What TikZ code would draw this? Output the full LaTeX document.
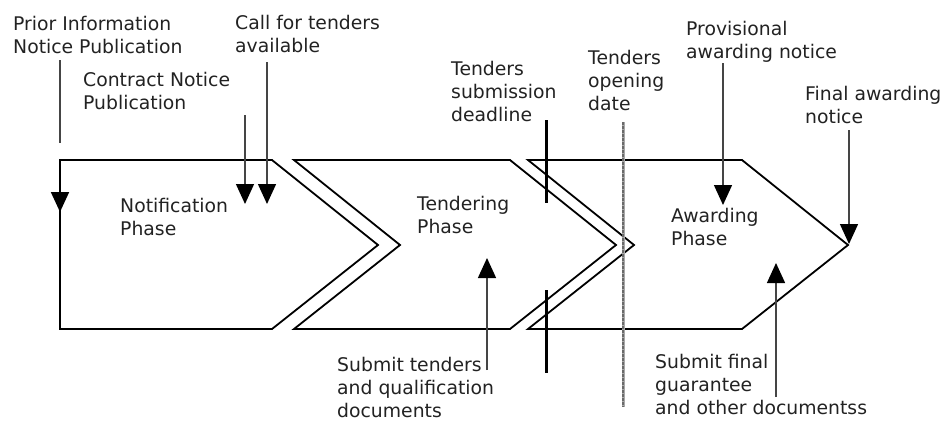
\documentclass[tikz,border=0pt]{standalone}
\usepackage{fontspec}
\setmainfont{DejaVu Sans}
\usetikzlibrary{arrows.meta}
\definecolor{ink}{HTML}{222222}
\definecolor{lead}{HTML}{454545}
\definecolor{dateline}{HTML}{6A6A6A}
\definecolor{datebase}{HTML}{A8A8A8}
\begin{document}
\begin{tikzpicture}[x=1pt,y=-1pt,
  % multi-line labels are placed by the baseline of their last line
  txt/.style={anchor=base west, align=left, inner sep=0pt, text=ink,
    font=\fontsize{18.8}{23}\selectfont},
  phasebox/.style={draw=black, line width=1.8pt, line join=miter},
  leader/.style={draw=lead, line width=1.4pt},
  pointer/.style={leader, -{Triangle[width=18pt,length=20pt,color=black]}},
  barline/.style={draw=black, line width=3pt},
  openbase/.style={draw=datebase, line width=3pt},
  opening/.style={draw=dateline, line width=2.2pt, dash pattern=on 2.5pt off 1.5pt}]
\useasboundingbox (0,0) rectangle (947,421);

% the three phase chevrons
\draw[phasebox] (60,160) -- (272,160) -- (378,245) -- (272,329) -- (60,329) -- cycle;
\draw[phasebox] (294,160) -- (510,160) -- (616,245) -- (510,329) -- (294,329) -- (400,245) -- cycle;
\draw[phasebox] (528,160) -- (742,160) -- (848,245) -- (742,329) -- (528,329) -- (634,245) -- cycle;

% phase names
\node[txt] (notif) at (120,235) {Notification\\Phase};
\node[txt] (tend)  at (417,233) {Tendering\\Phase};
\node[txt] (award) at (671,245) {Awarding\\Phase};

% event labels
\node[txt] (prior)    at (13,53)   {Prior Information\\Notice Publication};
\node[txt] (call)     at (235,52)  {Call for tenders\\available};
\node[txt] (contract) at (83,109)  {Contract Notice\\Publication};
\node[txt] (subdead)  at (451,121) {Tenders\\submission\\deadline};
\node[txt] (opendate) at (588,110) {Tenders\\opening\\date};
\node[txt] (prov)     at (686,58)  {Provisional\\awarding notice};
\node[txt] (final)    at (805,123) {Final awarding\\notice};
\node[txt] (subtend)  at (337,417) {Submit tenders\\and qualification\\documents};
\node[txt] (subfinal) at (655,414) {Submit final\\guarantee\\and other documentss};

% leader end points
\coordinate (priorA)  at (60,60);
\coordinate (priorB)  at (60,143);
\coordinate (notifTL) at (60,160);
\coordinate (priorT)  at (60,212);
\coordinate (contrA)  at (245,115);
\coordinate (contrT)  at (245,204);
\coordinate (callA)   at (267,62);
\coordinate (callT)   at (267,204);
\coordinate (provA)   at (723,63);
\coordinate (provT)   at (723,205);
\coordinate (finalA)  at (849,130);
\coordinate (finalT)  at (849,244);
\coordinate (stendA)  at (487,370);
\coordinate (stendT)  at (487,258);
\coordinate (sfinA)   at (776,397);
\coordinate (sfinT)   at (776,263);
\coordinate (deadA)   at (546,120);
\coordinate (deadB)   at (546,203);
\coordinate (deadC)   at (546,290);
\coordinate (deadD)   at (546,373);
\coordinate (openA)   at (623,122);
\coordinate (openB)   at (623,407);

% prior information notice runs into the left edge of the first phase
\draw[leader] (priorA) -- (priorB);
\draw[line width=1.8pt, -{Triangle[width=18pt,length=20pt]}] (notifTL) -- (priorT);

% event pointers
\draw[pointer] (contrA) -- (contrT);
\draw[pointer] (callA)  -- (callT);
\draw[pointer] (provA)  -- (provT);
\draw[pointer] (finalA) -- (finalT);
\draw[pointer] (stendA) -- (stendT);
\draw[pointer] (sfinA)  -- (sfinT);

% submission deadline marks
\draw[barline] (deadA) -- (deadB);
\draw[barline] (deadC) -- (deadD);

% opening date line: grey band with a darker dashed core
\draw[openbase] (openA) -- (openB);
\draw[opening] (openA) -- (openB);
\end{tikzpicture}
\end{document}
